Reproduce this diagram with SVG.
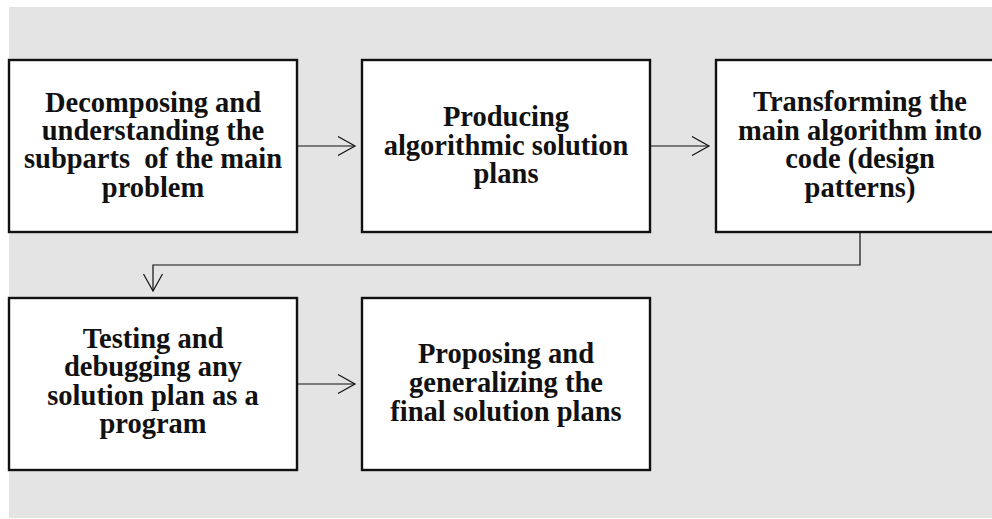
<svg xmlns="http://www.w3.org/2000/svg" width="992" height="519" viewBox="0 0 992 519">
  <style>
    .box { fill: #ffffff; stroke: #111111; stroke-width: 2.4; }
    .label { font-family: "Liberation Serif", "Times New Roman", serif; font-weight: bold; font-size: 28.5px; text-anchor: middle; fill: #111111; white-space: pre; }
    .conn { fill: none; stroke: #111111; stroke-width: 1.2; }
  </style>
  <defs>
    <marker id="chevron" markerUnits="userSpaceOnUse" markerWidth="20" markerHeight="22" refX="17" refY="9.5" orient="auto" overflow="visible">
      <path d="M0,0 L17,9.5 L0,19" fill="none" stroke="#111111" stroke-width="1.2"/>
    </marker>
  </defs>

  <!-- backdrop panel -->
  <rect x="9" y="7" width="983" height="511" fill="#e4e4e4"/>

  <g id="step-decompose">
    <rect class="box" x="9" y="60" width="288" height="172"/>
    <text class="label" xml:space="preserve"><tspan x="153" y="112">Decomposing and</tspan><tspan x="153" y="140">understanding the</tspan><tspan x="153" y="168">subparts  of the main</tspan><tspan x="153" y="197">problem</tspan></text>
  </g>

  <g id="step-plans">
    <rect class="box" x="362" y="60" width="288" height="172"/>
    <text class="label"><tspan x="506" y="126">Producing</tspan><tspan x="506" y="154.5">algorithmic solution</tspan><tspan x="506" y="183">plans</tspan></text>
  </g>

  <g id="step-code">
    <rect class="box" x="716" y="60" width="288" height="172"/>
    <text class="label"><tspan x="860" y="110.5">Transforming the</tspan><tspan x="860" y="139.5">main algorithm into</tspan><tspan x="860" y="168">code (design</tspan><tspan x="860" y="197">patterns)</tspan></text>
  </g>

  <g id="step-testing">
    <rect class="box" x="9" y="298" width="288" height="172"/>
    <text class="label"><tspan x="153" y="347.5">Testing and</tspan><tspan x="153" y="376">debugging any</tspan><tspan x="153" y="404.5">solution plan as a</tspan><tspan x="153" y="433">program</tspan></text>
  </g>

  <g id="step-generalize">
    <rect class="box" x="362" y="298" width="288" height="172"/>
    <text class="label"><tspan x="506" y="362.5">Proposing and</tspan><tspan x="506" y="391.5">generalizing the</tspan><tspan x="506" y="421">final solution plans</tspan></text>
  </g>

  <g id="connectors">
    <path class="conn" d="M297,146 H355" marker-end="url(#chevron)"/>
    <path class="conn" d="M650,146 H709" marker-end="url(#chevron)"/>
    <path class="conn" d="M860,233 V265 H153 V291" marker-end="url(#chevron)"/>
    <path class="conn" d="M297,384 H355" marker-end="url(#chevron)"/>
  </g>
</svg>
